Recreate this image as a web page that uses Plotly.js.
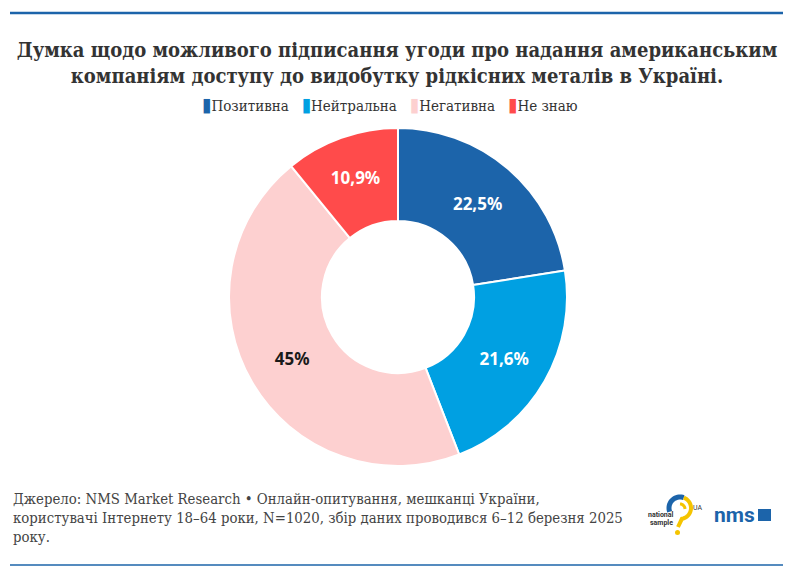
<!DOCTYPE html>
<html>
<head>
<meta charset="utf-8">
<script src="https://cdn.plot.ly/plotly-3.0.1.min.js"></script>
<style>
  html, body { margin: 0; padding: 0; background: #fff; }
  #chart { width: 794px; height: 575px; }
</style>
</head>
<body>
<div id="chart"></div>
<script>
const labels = ['Позитивна', 'Нейтральна', 'Негативна', 'Не знаю'];
const values = [22.5, 21.6, 45, 10.9];
const colors = ['#1c64aa', '#00a0e2', '#fdd0d0', '#ff4b4b'];
const textColors = ['#ffffff', '#ffffff', '#1a1a1a', '#ffffff'];

const titleText = 'Думка щодо можливого підписання угоди про надання американським<br>компаніям доступу до видобутку рідкісних металів в Україні.';
const sourceText = 'Джерело: NMS Market Research • Онлайн-опитування, мешканці України,<br>' +
  'користувачі Інтернету 18–64 роки, N=1020, збір даних проводився 6–12 березня 2025<br>року.';

const W = 794, H = 575;
// pixel -> paper (margins are zero, so paper == whole figure)
const px = x => x / W;
const py = y => 1 - y / H;

function arc(cx, cy, r, a0, a1, n) {
  let d = '';
  for (let i = 0; i <= n; i++) {
    const a = (a0 + (a1 - a0) * i / n) * Math.PI / 180;
    const x = cx + r * Math.cos(a), y = cy - r * Math.sin(a);
    d += (i ? ' L' : 'M') + px(x).toFixed(5) + ',' + py(y).toFixed(5);
  }
  return d;
}

const pieText = values.map(v => String(v).replace('.', ',') + '%');

const trace = {
  type: 'pie',
  labels: labels,
  values: values,
  text: pieText,
  textinfo: 'text',
  hoverinfo: 'label+text',
  sort: false,
  direction: 'clockwise',
  rotation: 0,
  hole: 0.45,
  domain: { x: [px(229), px(567)], y: [py(466), py(128)] },
  marker: { colors: colors, line: { color: '#ffffff', width: 2 } },
  textposition: 'inside',
  insidetextorientation: 'horizontal',
  textfont: { family: 'Noto Sans', size: 17, weight: 700, color: textColors },
  showlegend: false
};

// legend drawn as one line of text, swatches from the colours above
const legendText = labels.map((l, i) =>
  '<span style="color:' + colors[i] + ';font-size:19px">▮</span>' + l).join('   ');

const annotations = [
  {
    xref: 'paper', yref: 'paper', x: px(390), y: py(104), xanchor: 'center', yanchor: 'middle',
    text: legendText, showarrow: false,
    font: { family: 'DejaVu Serif Condensed', size: 15, color: '#333333' }
  },
  {
    xref: 'paper', yref: 'paper', x: px(11), y: py(488), xanchor: 'left', yanchor: 'top',
    align: 'left', text: sourceText, showarrow: false,
    font: { family: 'DejaVu Serif Condensed', size: 14.8, color: '#444444' }
  },
  {
    xref: 'paper', yref: 'paper', x: px(661), y: py(515), xanchor: 'center', yanchor: 'middle',
    text: '<b>national</b>', showarrow: false,
    font: { family: 'Roboto', size: 7, color: '#333333' }
  },
  {
    xref: 'paper', yref: 'paper', x: px(661), y: py(523), xanchor: 'center', yanchor: 'middle',
    text: '<b>sample</b>', showarrow: false,
    font: { family: 'Roboto', size: 7, color: '#333333' }
  },
  {
    xref: 'paper', yref: 'paper', x: px(697), y: py(508), xanchor: 'center', yanchor: 'middle',
    text: 'UA', showarrow: false,
    font: { family: 'Roboto', size: 7, color: '#333333' }
  },
  {
    xref: 'paper', yref: 'paper', x: px(734), y: py(515), xanchor: 'center', yanchor: 'middle',
    text: '<b>nms</b>', showarrow: false,
    font: { family: 'Roboto', size: 21, color: '#1c64aa' }
  }
];

const shapes = [
  { type: 'line', xref: 'paper', yref: 'paper', x0: px(10), x1: px(783), y0: py(13), y1: py(13),
    line: { color: '#1c64aa', width: 2.5 } },
  { type: 'line', xref: 'paper', yref: 'paper', x0: px(10), x1: px(783), y0: py(565), y1: py(565),
    line: { color: '#1c64aa', width: 1.5 } },
  // national sample mark
  { type: 'path', xref: 'paper', yref: 'paper', path: arc(680, 508, 11, 200, 70, 20),
    line: { color: '#1c64aa', width: 5 } },
  { type: 'path', xref: 'paper', yref: 'paper',
    path: arc(680, 508, 11, 70, -80, 20) + ' L' + px(678) + ',' + py(527),
    line: { color: '#f5c400', width: 4 } },
  { type: 'path', xref: 'paper', yref: 'paper', path: arc(680, 509, 5, 90, 0, 8),
    line: { color: '#f5c400', width: 3 } },
  { type: 'circle', xref: 'paper', yref: 'paper', x0: px(675), x1: px(680), y0: py(530), y1: py(535),
    fillcolor: '#f5c400', line: { width: 0 } },
  // nms square
  { type: 'rect', xref: 'paper', yref: 'paper', x0: px(758), x1: px(771), y0: py(509), y1: py(521),
    fillcolor: '#1c64aa', line: { width: 0 } }
];

const layout = {
  width: W,
  height: H,
  margin: { l: 0, r: 0, t: 0, b: 0 },
  paper_bgcolor: '#ffffff',
  title: {
    text: titleText,
    x: 0.5, xanchor: 'center',
    yref: 'container', y: py(57), yanchor: 'middle',
    font: { family: 'DejaVu Serif Condensed', size: 20, weight: 700, color: '#333333' }
  },
  showlegend: false,
  annotations: annotations,
  shapes: shapes
};

Plotly.newPlot('chart', [trace], layout, { displayModeBar: false, staticPlot: true });
</script>
</body>
</html>
